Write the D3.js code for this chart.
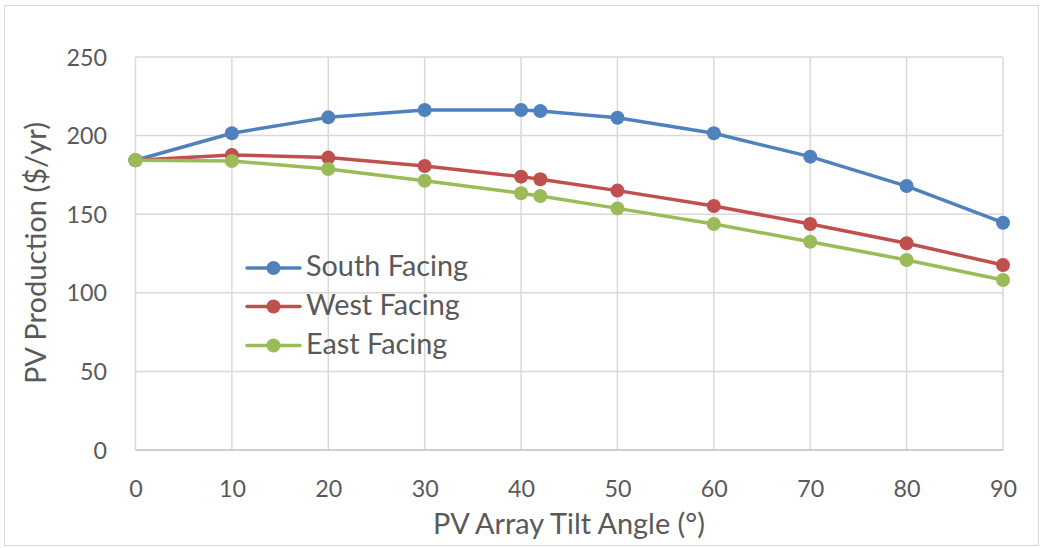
<!DOCTYPE html>
<html><head><meta charset="utf-8">
<script src="https://cdn.jsdelivr.net/npm/d3@7"></script>
<style>body{margin:0;background:#fff;} svg{display:block;}</style>
</head><body>
<svg id="chart" width="1042" height="548"></svg>
<script>
const tilt = [0, 10, 20, 30, 40, 42, 50, 60, 70, 80, 90];
const south = [184.3, 201.5, 211.6, 216.3, 216.3, 215.6, 211.4, 201.5, 186.6, 167.9, 144.6];
const west  = [184.3, 187.7, 186.0, 180.7, 173.9, 172.2, 165.0, 155.2, 143.8, 131.5, 117.7];
const east  = [184.3, 183.8, 178.8, 171.3, 163.3, 161.6, 153.7, 143.8, 132.5, 120.9, 108.1];
const seriesNames = ["South Facing", "West Facing", "East Facing"];
const colors = ["#4F81BD", "#C0504D", "#9BBB59"];
const xTicks = [0,10,20,30,40,50,60,70,80,90];
const yTicks = [0,50,100,150,200,250];

const svg = d3.select("#chart");
const font = "Lato, 'Open Sans', sans-serif";
const textColor = "#595959";

function fitSize(sel, targetWidth){
  sel.attr("font-size", 20);
  const w = sel.node().getComputedTextLength();
  const s = 20 * targetWidth / w;
  sel.attr("font-size", s);
  return s;
}

svg.append("rect").attr("x",4.5).attr("y",5.5).attr("width",1034).attr("height",540)
  .attr("fill","#fff").attr("stroke","#d9d9d9").attr("stroke-width",1);

const x = d3.scaleLinear().domain([0,90]).range([135.5,1003]);
const y = d3.scaleLinear().domain([0,250]).range([450,57]);

const g = svg.append("g");
g.selectAll(".hg").data(yTicks.filter(d=>d>0)).join("line")
  .attr("x1",x(0)).attr("x2",x(90)).attr("y1",d=>y(d)).attr("y2",d=>y(d))
  .attr("stroke","#d9d9d9").attr("stroke-width",1.5);
g.selectAll(".vg").data(xTicks).join("line")
  .attr("x1",d=>x(d)).attr("x2",d=>x(d)).attr("y1",y(0)).attr("y2",y(250))
  .attr("stroke","#d9d9d9").attr("stroke-width",1.5);
g.append("line").attr("x1",x(0)).attr("x2",x(90)).attr("y1",y(0)).attr("y2",y(0))
  .attr("stroke","#bfbfbf").attr("stroke-width",1.5);

// tick labels
const xAxis = d3.axisBottom(x).tickValues(xTicks).tickSize(0).tickPadding(0);
const xa = svg.append("g").attr("transform",`translate(0,${y(0)+39})`).call(xAxis);
xa.select(".domain").remove();
xa.selectAll("text").attr("font-family",font).attr("fill",textColor).attr("dy","0.35em").attr("y",0);
const tickSize = fitSize(xa.selectAll("text").filter(d=>d===90), 27);
xa.selectAll("text").attr("font-size",tickSize);

const yAxis = d3.axisLeft(y).tickValues(yTicks).tickSize(0).tickPadding(0);
const ya = svg.append("g").attr("transform",`translate(107,0)`).call(yAxis);
ya.select(".domain").remove();
ya.selectAll("text").attr("font-family",font).attr("font-size",tickSize).attr("fill",textColor).attr("x",0).attr("dy","0.35em");

// axis titles
const xt = svg.append("text").attr("x",569).attr("y",527).attr("text-anchor","middle").attr("dominant-baseline","middle")
  .attr("font-family",font).attr("fill",textColor).text("PV Array Tilt Angle (°)");
fitSize(xt, 272);
const yt = svg.append("text").attr("transform","translate(39,253) rotate(-90)").attr("text-anchor","middle").attr("dominant-baseline","middle")
  .attr("font-family",font).attr("fill",textColor).text("PV Production ($/yr)");
fitSize(yt, 262);

// series
const allSeries = [south, west, east];
const line = d3.line().x((d,i)=>x(tilt[i])).y(d=>y(d));
allSeries.forEach((s,k)=>{
  const sg = svg.append("g");
  sg.append("path").datum(s).attr("d",line).attr("fill","none").attr("stroke",colors[k])
    .attr("stroke-width",3.5).attr("stroke-linejoin","round").attr("stroke-linecap","round");
  sg.selectAll("circle").data(s).join("circle").attr("cx",(d,i)=>x(tilt[i])).attr("cy",d=>y(d))
    .attr("r",7).attr("fill",colors[k]);
});

// legend
const legY = [268, 306.5, 345.5];
let legSize = null;
seriesNames.forEach((n,k)=>{
  const lg = svg.append("g");
  lg.append("line").attr("x1",247).attr("x2",300).attr("y1",legY[k]).attr("y2",legY[k])
    .attr("stroke",colors[k]).attr("stroke-width",3.5).attr("stroke-linecap","round");
  lg.append("circle").attr("cx",273.5).attr("cy",legY[k]).attr("r",7).attr("fill",colors[k]);
  const t = lg.append("text").attr("x",306).attr("y",legY[k]+1).attr("dominant-baseline","middle")
    .attr("font-family",font).attr("fill",textColor).text(n);
  if (k===0) legSize = fitSize(t, 162); else t.attr("font-size", legSize);
});
</script>
</body></html>
